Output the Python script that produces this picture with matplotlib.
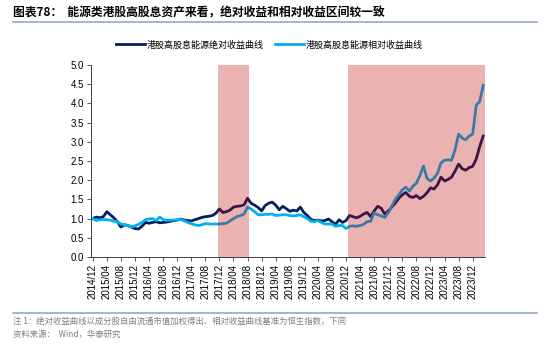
import matplotlib.pyplot as plt
import pandas as pd

plt.rcParams['font.family'] = ['Liberation Sans', 'Noto Sans CJK SC', 'DejaVu Sans']

# monthly points, 2014/12 .. 2024/03
months = pd.date_range('2014-12-01', periods=112, freq='MS').strftime('%Y/%m').tolist()

abs_curve = [1.00, 1.04, 1.02, 1.05, 1.18, 1.10, 1.02, 0.92, 0.78, 0.84,
             0.82, 0.78, 0.74, 0.73, 0.80, 0.90, 0.88, 0.90, 0.92, 0.89,
             0.90, 0.91, 0.93, 0.95, 0.96, 0.99, 0.96, 0.95, 0.94, 0.97,
             1.00, 1.03, 1.05, 1.06, 1.08, 1.14, 1.25, 1.16, 1.18, 1.22,
             1.30, 1.32, 1.33, 1.36, 1.53, 1.40, 1.35, 1.29, 1.20, 1.34,
             1.40, 1.43, 1.35, 1.23, 1.32, 1.26, 1.19, 1.22, 1.20, 1.30,
             1.16, 1.08, 0.98, 0.95, 0.96, 0.94, 0.95, 0.99, 0.92, 0.85,
             0.97, 0.90, 0.95, 1.08, 1.05, 1.02, 1.06, 1.12, 1.16, 1.05,
             1.20, 1.32, 1.27, 1.12, 1.20, 1.30, 1.40, 1.53, 1.62, 1.68,
             1.58, 1.55, 1.60, 1.52, 1.58, 1.67, 1.80, 1.77, 1.88, 2.08,
             1.98, 2.02, 2.08, 2.24, 2.42, 2.30, 2.26, 2.33, 2.36, 2.55,
             2.88, 3.15]

rel_curve = [1.00, 0.95, 0.97, 0.98, 0.97, 0.96, 0.93, 0.92, 0.86, 0.84,
             0.82, 0.78, 0.81, 0.85, 0.90, 0.97, 0.99, 1.00, 0.95, 1.04,
             0.98, 0.95, 0.96, 0.96, 0.97, 0.98, 0.94, 0.90, 0.87, 0.84,
             0.82, 0.84, 0.87, 0.86, 0.86, 0.86, 0.86, 0.87, 0.88, 0.94,
             1.00, 1.05, 1.08, 1.12, 1.30, 1.25, 1.18, 1.10, 1.10, 1.11,
             1.11, 1.12, 1.08, 1.09, 1.10, 1.10, 1.08, 1.07, 1.08, 1.10,
             1.05, 1.00, 0.93, 0.92, 0.95, 0.90, 0.86, 0.86, 0.86, 0.80,
             0.82, 0.82, 0.74, 0.80, 0.81, 0.80, 0.82, 0.85, 0.92, 0.93,
             1.15, 1.10, 1.07, 1.03, 1.15, 1.32, 1.50, 1.62, 1.75, 1.82,
             1.72, 1.84, 1.92, 2.12, 2.37, 2.05, 1.98, 2.05, 2.18, 2.45,
             2.52, 2.53, 2.52, 2.80, 3.20, 3.10, 3.05, 3.15, 3.20, 3.95,
             4.05, 4.47]

# shaded periods (first month, last month)
shade_periods = [('2017/12', '2018/08'), ('2021/01', '2024/03')]

series_names = ['港股高股息能源绝对收益曲线', '港股高股息能源相对收益曲线']

fig = plt.figure(figsize=(5.5, 3.44), dpi=100)
ax = fig.add_axes([91/550, 1 - 257/344, 394/550, 192/344])

x = range(len(months))
ax.plot(x, abs_curve, color='#002060', lw=2.0, label=series_names[0], zorder=2)
ax.plot(x, rel_curve, color='#00B0F0', lw=2.0, label=series_names[1], zorder=2)

for start, end in shade_periods:
    ax.axvspan(months.index(start) - 0.5, months.index(end) + 0.5,
               color='#C00000', alpha=0.3, lw=0, zorder=3)

ax.set_xlim(-0.5, len(months) - 0.5)
ax.set_ylim(0, 5)
ax.set_yticks([i * 0.5 for i in range(11)])
ax.set_yticklabels([f'{i * 0.5:.1f}' for i in range(11)], fontsize=7)
ax.set_xticks(list(range(0, len(months), 4)))
ax.set_xticklabels(months[::4], rotation=90, fontsize=7)
ax.tick_params(axis='both', length=3, width=0.6, color='#404040', pad=2)

for s in ['top', 'right']:
    ax.spines[s].set_visible(False)
for s in ['left', 'bottom']:
    ax.spines[s].set_color('#404040')
    ax.spines[s].set_linewidth(0.7)

fig.legend(loc='center', bbox_to_anchor=(0.49, 1 - 45/344), ncol=2, frameon=False,
           prop={'family': 'Noto Sans CJK SC', 'size': 6.5},
           handlelength=3.2, columnspacing=1.2, handletextpad=0.2)

fig.text(13/550, 1 - 13/344, '图表78：  能源类港股高股息资产来看，绝对收益和相对收益区间较一致',
         fontsize=8.5, fontweight='bold', family=['Noto Sans CJK SC', 'DejaVu Sans'],
         va='center', ha='left')
fig.add_artist(plt.Line2D([13/550, 537/550], [1 - 22/344, 1 - 22/344],
                          color='#8FAACB', lw=1.2))
fig.add_artist(plt.Line2D([13/550, 537/550], [1 - 313/344, 1 - 313/344],
                          color='#8FAACB', lw=1.2))
fig.text(13/550, 1 - 321/344, '注 1：绝对收益曲线以成分股自由流通市值加权得出、相对收益曲线基准为恒生指数，下同',
         fontsize=6, color='#7F7F7F', family=['Noto Sans CJK SC', 'DejaVu Sans'],
         va='center', ha='left')
fig.text(13/550, 1 - 334/344, '资料来源：  Wind，华泰研究',
         fontsize=6, color='#7F7F7F', family=['Noto Sans CJK SC', 'DejaVu Sans'],
         va='center', ha='left')

fig.savefig('out.png', dpi=100)
